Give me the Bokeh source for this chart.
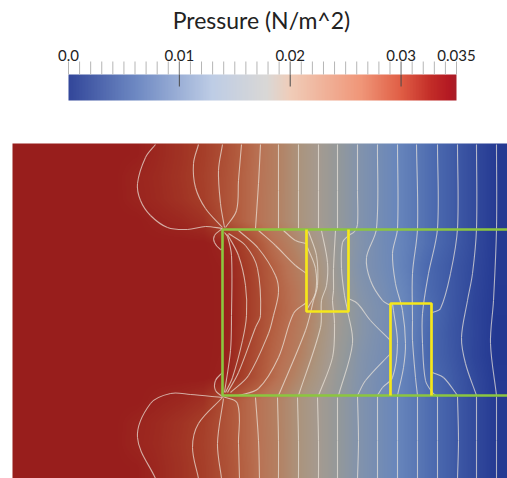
import numpy as np
from bokeh.plotting import figure
from bokeh.embed import file_html
from bokeh.resources import INLINE
from bokeh.models import Range1d, LinearColorMapper, ColumnDataSource
from bokeh.core.properties import value

# ---- colour scale ----
title_text = "Pressure (N/m^2)"
tick_values = [0.0, 0.01, 0.02, 0.03, 0.035]
tick_labels = ["0.0", "0.01", "0.02", "0.03", "0.035"]
P_MAX = 0.035
bar_stop_values = [0, 0.006, 0.0129, 0.0179, 0.02, 0.0265, 0.03, 0.0328, 0.0345, 0.035]
bar_stop_colors = [(52,72,155),(110,137,195),(190,205,230),(218,216,214),(240,205,185),
                   (240,150,120),(225,95,70),(195,45,40),(180,25,35),(170,30,40)]
field_stop_values = [0, 0.0015, 0.008, 0.012, 0.016, 0.018, 0.02, 0.022, 0.024, 0.026, 0.028, 0.032, 0.035]
field_stop_colors = [(30,50,140),(35,55,145),(75,105,175),(105,135,188),(132,148,172),(148,153,155),
                     (165,155,145),(172,148,125),(180,130,100),(185,115,85),(180,95,65),(165,60,40),(152,30,28)]

# ---- pressure field, thousandths of the unit, left to right per row ----
field_cols = [23,46,68,91,113,136,158,181,203,226,248,271,293,316,338,361,383,406,428,451,473,496]
field_row_ys = [154,176,199,221,243,266,288,310,333,355,377,400,422,444,467]
row_154 = [35,35,35,35,35,34.8,33.8,32.8,31.6,29.5,27.2,24.7,22.5,20.2,18.0,15.6,13.4,11.0,8.9,6.6,4.3,2.0]
row_176 = [35,35,35,35,35,34.2,33.6,32.6,31.4,29.3,27.0,24.7,22.5,20.2,18.0,15.6,13.4,11.0,8.9,6.6,4.3,2.0]
row_199 = [35,35,35,35,35,34.3,33.7,32.8,31.6,29.2,27.0,24.6,22.5,20.2,18.0,15.6,13.4,11.0,8.9,6.6,4.3,2.0]
row_221 = [35,35,35,35,35,35,34.4,33.9,33.0,29.5,27.0,24.6,22.5,20.2,18.0,15.6,13.4,11.0,8.9,6.6,4.3,2.0]
row_243 = [35,35,35,35,35,35,35,35,35,34.0,30.5,26.5,23.8,21.0,18.5,15.8,13.4,11.2,8.9,6.6,4.3,2.0]
row_266 = [35,35,35,35,35,35,35,35,35,34.6,31.5,28.0,25.0,22.0,18.5,15.5,13.5,11.0,8.0,6.0,4.0,2.0]
row_288 = [35,35,35,35,35,35,35,35,35,34.7,31.8,28.3,25.8,22.5,18.8,16.0,14.0,11.5,8.2,6.0,3.8,1.9]
row_310 = [35,35,35,35,35,35,35,35,35,34.7,31.8,28.5,26.0,22.8,19.5,16.5,14.5,11.8,8.8,6.0,3.6,1.8]
row_333 = [35,35,35,35,35,35,35,35,35,34.7,31.5,28.0,25.5,22.5,19.2,16.5,14.3,11.8,8.2,5.8,3.7,1.7]
row_355 = [35,35,35,35,35,35,35,35,35,34.6,31.0,27.5,25.0,22.0,18.8,16.0,14.0,11.5,8.0,6.0,3.6,1.7]
row_377 = [35,35,35,35,35,35,35,35,35,34.3,30.5,27.0,24.0,21.3,18.3,15.8,13.6,11.0,8.7,6.4,4.1,1.9]
row_400 = [35,35,35,35,35,35,34.4,33.9,33.0,29.5,27.0,24.6,22.5,20.2,18.0,15.6,13.4,11.0,8.9,6.6,4.3,2.0]
row_422 = [35,35,35,35,35,34.3,33.7,32.8,31.6,29.2,27.0,24.6,22.5,20.2,18.0,15.6,13.4,11.0,8.9,6.6,4.3,2.0]
row_444 = [35,35,35,35,35,34.2,33.6,32.6,31.4,29.3,27.0,24.7,22.5,20.2,18.0,15.6,13.4,11.0,8.9,6.6,4.3,2.0]
row_467 = [35,35,35,35,35,34.8,33.8,32.8,31.6,29.5,27.2,24.7,22.5,20.2,18.0,15.6,13.4,11.0,8.9,6.6,4.3,2.0]
field_rows = [row_154,row_176,row_199,row_221,row_243,row_266,row_288,row_310,row_333,row_355,row_377,row_400,row_422,row_444,row_467]

# ---- geometry of the domain (y counted downward from the top of the page) ----
field_left, field_right, field_top, field_bottom = 12, 507, 143, 478
channel_x = [507, 222, 222, 507]
channel_y = [229, 229, 395, 395]
box1_x = [306, 306, 348, 348]
box1_y = [229, 311, 311, 229]
box2_x = [390, 390, 431, 431]
box2_y = [395, 303, 303, 395]

# ---- iso-pressure lines ----
contours_above = [
 [(155,144),(145,157),(137,183),(140,200),(150,215),(167,227),(187,229),(205,226),(222,228)],
 [(198,144),(193,163),(195,187),(205,208),(222,227)],
 [(222,144),(218,170),(220,203),(224,227)],
 [(241,144),(238,180),(236,210),(225,227)],
 [(260,144),(258,183),(255,228)],
 [(278,144),(278,190),(278,228)],
 [(298,144),(298,190),(298,228)],
 [(318,144),(318,190),(318,228)],
 [(337,144),(337,190),(337,228)],
 [(357,144),(357,190),(357,224),(354,231),(348,235)],
 [(222,228),(214,235),(214,242),(220,249),(222,248)],
]
contours_below = [
 [(155,478),(137,437),(150,403),(170,393),(190,394),(222,397)],
 [(198,478),(192,447),(198,423),(222,397)],
 [(221,478),(217,443),(223,398)],
 [(222,396),(237,403),(238,443),(239,478)],
 [(255,397),(258,440),(259,478)],
 [(277,397),(278,440),(278,478)],
 [(297,397),(298,440),(298,478)],
 [(317,397),(318,440),(318,478)],
 [(337,397),(337,440),(337,478)],
 [(357,396),(358,440),(357,478)],
 [(377,396),(377,440),(377,478)],
 [(397,396),(397,440),(397,478)],
 [(417,396),(417,440),(417,478)],
 [(437,396),(437,440),(437,478)],
 [(457,396),(458,440),(457,478)],
 [(476,396),(476,440),(476,478)],
 [(496,396),(496,440),(496,478)],
 [(222,372),(215,380),(215,390),(222,396)],
]
contours_channel_left = [
 [(224,232),(227,236),(231,255),(231,315),(230,350),(224,392)],
 [(227,234),(238,255),(245,285),(246,315),(242,340),(232,377),(225,392)],
 [(228,233),(245,245),(257,268),(260,315),(255,327),(238,372),(227,392)],
 [(238,230),(258,248),(275,275),(278,292),(273,315),(268,333),(248,375),(230,392)],
 [(258,230),(275,245),(295,265),(306,273)],
 [(283,230),(295,240),(306,243)],
 [(306,302),(293,313),(278,357),(258,388),(238,395)],
 [(307,247),(315,268),(315,292),(307,308)],
 [(308,231),(316,255),(317,285),(313,300),(305,330),(278,395)],
 [(321,230),(327,262),(326,285),(321,300),(320,327),(298,395)],
 [(335,230),(333,268),(333,290),(332,300),(334,323),(332,357),(318,395)],
 [(348,235),(342,242),(341,268),(344,295),(347,310),(352,343),(338,395)],
]
contours_channel_right = [
 [(377,144),(376,228),(366,257),(370,280),(382,300),(390,305)],
 [(397,144),(397,228),(392,253),(395,283),(402,310),(405,343),(403,367),(397,395)],
 [(416,144),(417,228),(412,273),(412,320),(412,340),(415,377),(417,395)],
 [(437,144),(437,228),(428,273),(422,313),(422,343),(425,380),(432,392),(437,396)],
 [(457,144),(457,228),(450,273),(440,308),(432,312)],
 [(432,372),(443,377),(457,395)],
 [(476,144),(476,228),(472,273),(467,300),(461,337),(465,363),(476,395)],
 [(496,144),(496,228),(493,300),(490,343),(496,395)],
 [(357,395),(365,380),(390,353)],
 [(377,395),(382,387),(392,377),(397,343),(393,310),(392,303)],
 [(348,298),(357,303),(370,320),(390,340)],
]
all_contours = contours_above + contours_below + contours_channel_left + contours_channel_right

H = 478


def up(y):
    """page row -> y in the figure's upward data range"""
    return H - np.asarray(y, float)


def ramp(values, colors, n=256):
    vs = np.linspace(0, P_MAX, n)
    arr = np.array(colors, float)
    chans = [np.interp(vs, values, arr[:, i]) for i in range(3)]
    return ["#%02x%02x%02x" % (int(r), int(g), int(b)) for r, g, b in zip(*chans)]


def bezier_source(lines):
    """Curves that pass through the read points; handles kept short so they do not overshoot."""
    out = {k: [] for k in ("x0","y0","x1","y1","cx0","cy0","cx1","cy1")}
    for line in lines:
        pts = np.array(line, float)
        pts[:, 1] = up(pts[:, 1])
        n = len(pts)
        tang = []
        for i in range(n):
            d = pts[min(i+1, n-1)] - pts[max(i-1, 0)]
            tang.append(d / (np.hypot(*d) or 1))
        for i in range(n - 1):
            p1, p2 = pts[i], pts[i+1]
            seg = np.hypot(*(p2 - p1)) / 3
            c0, c1 = p1 + tang[i] * seg, p2 - tang[i+1] * seg
            for k, v in zip(out, (p1[0], p1[1], p2[0], p2[1], c0[0], c0[1], c1[0], c1[1])):
                out[k].append(float(v))
    return ColumnDataSource(out)


def smooth_raster(rows):
    """Display raster of the read table, one cell per page pixel, so the shading is continuous."""
    table = np.array(rows, float) / 1000.0
    xs = np.arange(field_left, field_right) + 0.5
    ys = np.arange(field_top, field_bottom) + 0.5
    by_col = np.array([np.interp(xs, field_cols, r) for r in table])
    return np.array([np.interp(ys, field_row_ys, by_col[:, j]) for j in range(len(xs))]).T


p = figure(width=507, height=478, x_range=Range1d(0, 507), y_range=Range1d(0, H),
           toolbar_location=None, output_backend="svg", min_border=0, outline_line_color=None,
           background_fill_color="white", border_fill_color="white",
           styles={"position": "absolute", "left": "0px", "top": "0px"})
p.axis.visible = False
p.grid.visible = False

# pressure scale shares the page width: 0 sits at x=68, 0.035 at x=456
k = P_MAX / (456 - 68)
p.extra_x_ranges = {"pressure": Range1d(-68 * k, (507 - 68) * k)}

# field
field_mapper = LinearColorMapper(palette=ramp(field_stop_values, field_stop_colors), low=0, high=P_MAX)
p.image(image=[smooth_raster(field_rows)[::-1]], x=field_left, y=float(up(field_bottom)),
        dw=field_right - field_left, dh=field_bottom - field_top, color_mapper=field_mapper)

# contours
p.bezier("x0","y0","x1","y1","cx0","cy0","cx1","cy1", source=bezier_source(all_contours),
         line_color="#ece6dc", line_alpha=0.7, line_width=1.1)

# channel and obstacles
p.line(channel_x, up(channel_y), line_color="#8cc63f", line_width=2.6)
p.line(box1_x, up(box1_y), line_color="#f6e71a", line_width=2.7)
p.line(box2_x, up(box2_y), line_color="#f6e71a", line_width=2.7)

# colour bar
bar_levels = np.linspace(0, P_MAX, 388)
bar_mapper = LinearColorMapper(palette=ramp(bar_stop_values, bar_stop_colors), low=0, high=P_MAX)
p.image(image=[np.vstack([bar_levels, bar_levels])], x=0, y=float(up(100)), dw=P_MAX, dh=26,
        color_mapper=bar_mapper, x_range_name="pressure")

minor = np.arange(0, 36) * 0.001
p.segment(x0=minor, x1=minor, y0=float(up(61)), y1=float(up(74)), x_range_name="pressure",
          line_color="#b5b5b5", line_width=1)
major = tick_values[1:4]
p.segment(x0=major, x1=major, y0=float(up(61)), y1=float(up(74)), x_range_name="pressure",
          line_color="#8a8a8a", line_width=1)
p.segment(x0=major, x1=major, y0=float(up(74)), y1=float(up(86)), x_range_name="pressure",
          line_color="#4a4a4a", line_width=1)

p.text(x=tick_values, y=up([55]*5), text=tick_labels, x_range_name="pressure", text_align="center",
       text_baseline="middle", text_font=value("Lato"), text_font_size="15px", text_color="#222222")
p.text(x=[0.0174], y=up([19]), text=[title_text], x_range_name="pressure", text_align="center",
       text_baseline="middle", text_font=value("Lato"), text_font_size="23px", text_color="#222222")

open("out.html", "w").write(file_html(p, INLINE))
